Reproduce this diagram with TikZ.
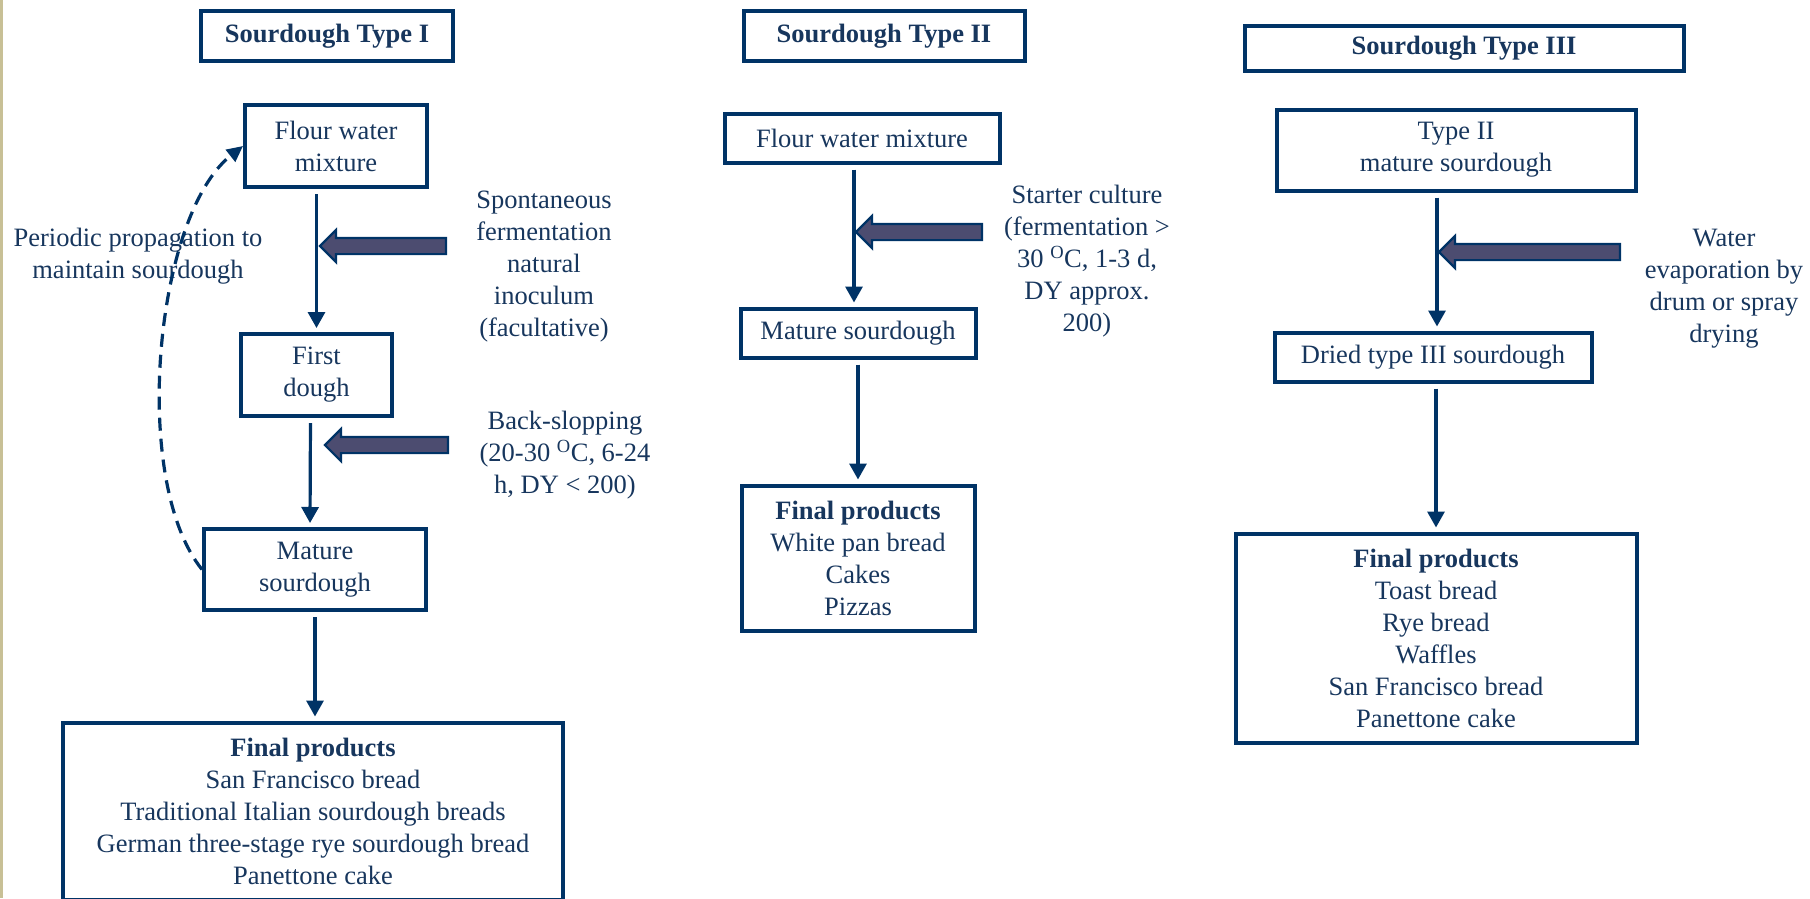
\documentclass[tikz,border=0pt]{standalone}
\usepackage{fontspec}
\setmainfont{Liberation Serif}
\usetikzlibrary{shapes,arrows,arrows.meta,positioning}

\definecolor{navy}{RGB}{0,51,102}
\definecolor{textnavy}{RGB}{23,54,93}
\definecolor{slate}{RGB}{76,76,112}
\definecolor{stripbeige}{RGB}{200,192,150}

\begin{document}
\begin{tikzpicture}[x=1pt,y=-1pt,
  every node/.style={text=textnavy, font=\fontsize{26.5}{32}\selectfont, align=center},
  sdbox/.style={draw=navy, line width=4pt, inner sep=0pt},
  sdtitle/.style={sdbox, font=\fontsize{26.5}{32}\selectfont\bfseries},
  flowline/.style={draw=navy, line width=3.2pt, -{Triangle[length=16pt,width=17pt]}, shorten <=5pt, shorten >=4pt},
  fatarrow/.style={single arrow, shape border rotate=180, draw=navy, line width=2.2pt, fill=slate,
    inner xsep=0pt, inner ysep=7pt, single arrow head extend=8pt},
  propline/.style={draw=navy, line width=3.2pt, dash pattern=on 13pt off 8pt, -{Triangle[length=16pt,width=15pt]}}]
\useasboundingbox (0,0) rectangle (1810,898);
\fill[stripbeige] (0,0) rectangle (3,898);

% Type I
\node[sdtitle, minimum width=252pt, minimum height=50pt] (titleI) at (327,36) {Sourdough Type I};
\node[sdbox, minimum width=182pt, minimum height=82pt] (flourI) at (336,146) {Flour water\\mixture};
\node[sdbox, minimum width=151pt, minimum height=82pt] (firstI) at (316.5,375) {First\\dough};
\node[sdbox, minimum width=222pt, minimum height=81pt] (matureI) at (315,569.5) {Mature\\sourdough};
\node[sdbox, minimum width=500pt, minimum height=177pt] (finalI) at (313,811) {\textbf{Final products}\\San Francisco bread\\Traditional Italian sourdough breads\\German three-stage rye sourdough bread\\Panettone cake};
\node (spontI) at (544,267) {Spontaneous\\fermentation\\natural\\inoculum\\(facultative)};
\node (backI) at (565,455) {Back-slopping\\(20-30 \textsuperscript{O}C, 6-24\\h, DY < 200)};
\node (periodI) at (138,256) {Periodic propagation to\\maintain sourdough};
\node[fatarrow, minimum height=126pt] (fatIa) at (387,246) {};
\node[fatarrow, minimum height=123pt] (fatIb) at (390.5,445) {};

\draw[flowline] (flourI.south -| firstI.north) -- (firstI.north);
\draw[flowline] ([xshift=-6pt]firstI.south) -- ([xshift=-5pt]matureI.north);
\draw[flowline] (matureI.south) -- (matureI.south |- finalI.north);
\draw[propline] (matureI.west) .. controls (130,480) and (155,215) .. (flourI.west);

% Type II
\node[sdtitle, minimum width=281pt, minimum height=50pt] (titleII) at (884,36) {Sourdough Type II};
\node[sdbox, minimum width=275pt, minimum height=49pt] (flourII) at (862,138) {Flour water mixture};
\node[sdbox, minimum width=235pt, minimum height=49pt] (matureII) at (858,333) {Mature sourdough};
\node[sdbox, minimum width=233pt, minimum height=145pt] (finalII) at (858,558) {\textbf{Final products}\\White pan bread\\Cakes\\Pizzas};
\node (starterII) at (1087,261) {Starter culture\\(fermentation >\\30 \textsuperscript{O}C, 1-3 d,\\DY approx.\\200)};
\node[fatarrow, minimum height=126pt] (fatII) at (923,232) {};

\draw[flowline] ([xshift=-4pt]flourII.south -| matureII.north) -- ([xshift=-4pt]matureII.north);
\draw[flowline] (matureII.south) -- (finalII.north);

% Type III
\node[sdtitle, minimum width=439pt, minimum height=45pt] (titleIII) at (1464,48) {Sourdough Type III};
\node[sdbox, minimum width=359pt, minimum height=81pt] (typeIIbox) at (1456,150) {Type II\\mature sourdough};
\node[sdbox, minimum width=317pt, minimum height=49pt] (driedIII) at (1433,357) {Dried type III sourdough};
\node[sdbox, minimum width=401pt, minimum height=209pt] (finalIII) at (1436,638) {\textbf{Final products}\\Toast bread\\Rye bread\\Waffles\\San Francisco bread\\Panettone cake};
\node (waterIII) at (1724,289) {Water\\evaporation by\\drum or spray\\drying};
\node[fatarrow, minimum height=181pt] (fatIII) at (1533.5,252) {};

\draw[flowline] ([xshift=4pt]typeIIbox.south -| driedIII.north) -- ([xshift=4pt]driedIII.north);
\draw[flowline] (driedIII.south -| finalIII.north) -- (finalIII.north);
\end{tikzpicture}
\end{document}
